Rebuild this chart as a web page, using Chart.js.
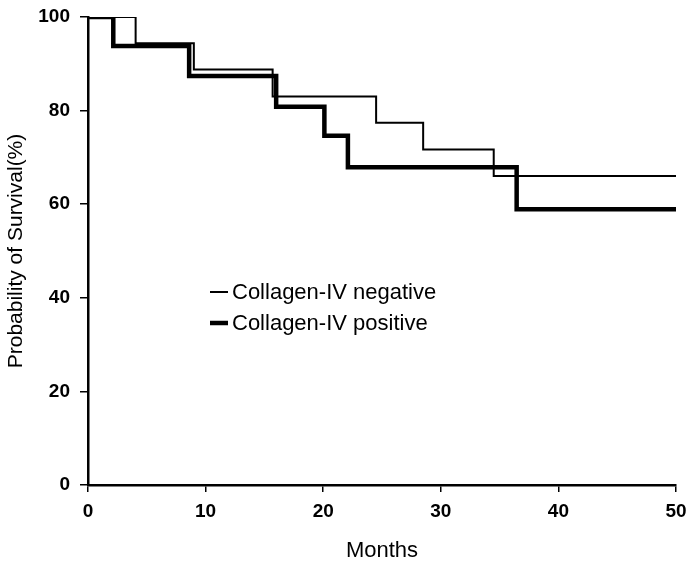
<!DOCTYPE html>
<html>
<head>
<meta charset="utf-8">
<script src="https://cdn.jsdelivr.net/npm/chart.js@4/dist/chart.umd.min.js"></script>
<style>
  html, body { margin: 0; padding: 0; background: #fff; }
  #wrap { width: 690px; height: 564px; position: relative; }
</style>
</head>
<body>
<div id="wrap"><canvas id="c" width="690" height="564"></canvas></div>
<script>
// Kaplan-Meier step data (time in months, survival in %)
const negativeLabel = 'Collagen-IV negative';
const negativeTimes = [0, 4.05, 9.0, 15.7, 24.5, 28.5, 34.5, 50];
const negativeSurvival = [100, 94.4, 88.8, 83.0, 77.4, 71.7, 66.0, 66.0];

const positiveLabel = 'Collagen-IV positive';
const positiveTimes = [0, 2.15, 8.6, 16.0, 20.1, 22.1, 36.45, 50];
const positiveSurvival = [100, 93.8, 87.4, 80.8, 74.6, 67.9, 58.9, 58.9];

const xTicks = [0, 10, 20, 30, 40, 50];
const yTicks = [0, 20, 40, 60, 80, 100];
const xTitle = 'Months';
const yTitle = 'Probability of Survival(%)';

const toPoints = (xs, ys) => xs.map((x, i) => ({ x: x, y: ys[i] }));

const FONT = "'Liberation Sans', Arial, sans-serif";

const legendPlugin = {
  id: 'inlineLegend',
  afterDatasetsDraw(chart) {
    const ctx = chart.ctx;
    const ca = chart.chartArea;
    const x0 = ca.left + 122;
    const rows = [ca.top + 275, ca.top + 306];
    ctx.save();
    ctx.font = "22px " + FONT;
    ctx.fillStyle = '#000';
    ctx.textBaseline = 'middle';
    chart.data.datasets.forEach((ds, i) => {
      const y = rows[i];
      ctx.beginPath();
      ctx.strokeStyle = ds.borderColor;
      ctx.lineWidth = ds.borderWidth;
      ctx.lineCap = 'butt';
      ctx.moveTo(x0, y);
      ctx.lineTo(x0 + 18, y);
      ctx.stroke();
      ctx.fillText(ds.label, x0 + 22, y + 1);
    });
    ctx.restore();
  }
};

new Chart(document.getElementById('c'), {
  type: 'line',
  data: {
    datasets: [
      {
        label: negativeLabel,
        data: toPoints(negativeTimes, negativeSurvival),
        borderColor: '#000',
        borderWidth: 2,
        stepped: true,
        pointRadius: 0,
        fill: false,
        borderJoinStyle: 'miter',
        borderCapStyle: 'butt'
      },
      {
        label: positiveLabel,
        data: toPoints(positiveTimes, positiveSurvival),
        borderColor: '#000',
        borderWidth: 4.5,
        stepped: true,
        pointRadius: 0,
        fill: false,
        borderJoinStyle: 'miter',
        borderCapStyle: 'butt'
      }
    ]
  },
  options: {
    responsive: false,
    animation: false,
    layout: { padding: { left: 0, right: 14, top: 17, bottom: 0 } },
    plugins: {
      legend: { display: false },
      tooltip: { enabled: false }
    },
    scales: {
      x: {
        type: 'linear',
        min: 0,
        max: 50,
        afterBuildTicks: (s) => { s.ticks = xTicks.map(v => ({ value: v })); },
        afterFit: (s) => { s.height = 79; s.paddingLeft = 0; s.paddingRight = 0; },
        ticks: {
          color: '#000',
          font: { family: FONT, size: 19, weight: 'bold' },
          padding: 8,
          maxRotation: 0
        },
        grid: {
          drawOnChartArea: false,
          drawTicks: true,
          tickLength: 7,
          color: '#000',
          lineWidth: 1.5
        },
        border: { display: true, color: '#000', width: 2.5 },
        title: {
          display: true,
          text: xTitle,
          color: '#000',
          font: { family: FONT, size: 22 },
          padding: { top: 0, bottom: 0 }
        }
      },
      y: {
        type: 'linear',
        min: 0,
        max: 100,
        afterBuildTicks: (s) => { s.ticks = yTicks.map(v => ({ value: v })); },
        afterFit: (s) => { s.width = 88; s.paddingTop = 0; s.paddingBottom = 0; },
        ticks: {
          color: '#000',
          font: { family: FONT, size: 19, weight: 'bold' },
          padding: 10
        },
        grid: {
          drawOnChartArea: false,
          drawTicks: true,
          tickLength: 8,
          color: '#000',
          lineWidth: 1.5
        },
        border: { display: true, color: '#000', width: 2.5 },
        title: {
          display: true,
          text: yTitle,
          color: '#000',
          font: { family: FONT, size: 21 },
          padding: { top: 4, bottom: 0 }
        }
      }
    }
  },
  plugins: [legendPlugin]
});
</script>
</body>
</html>
